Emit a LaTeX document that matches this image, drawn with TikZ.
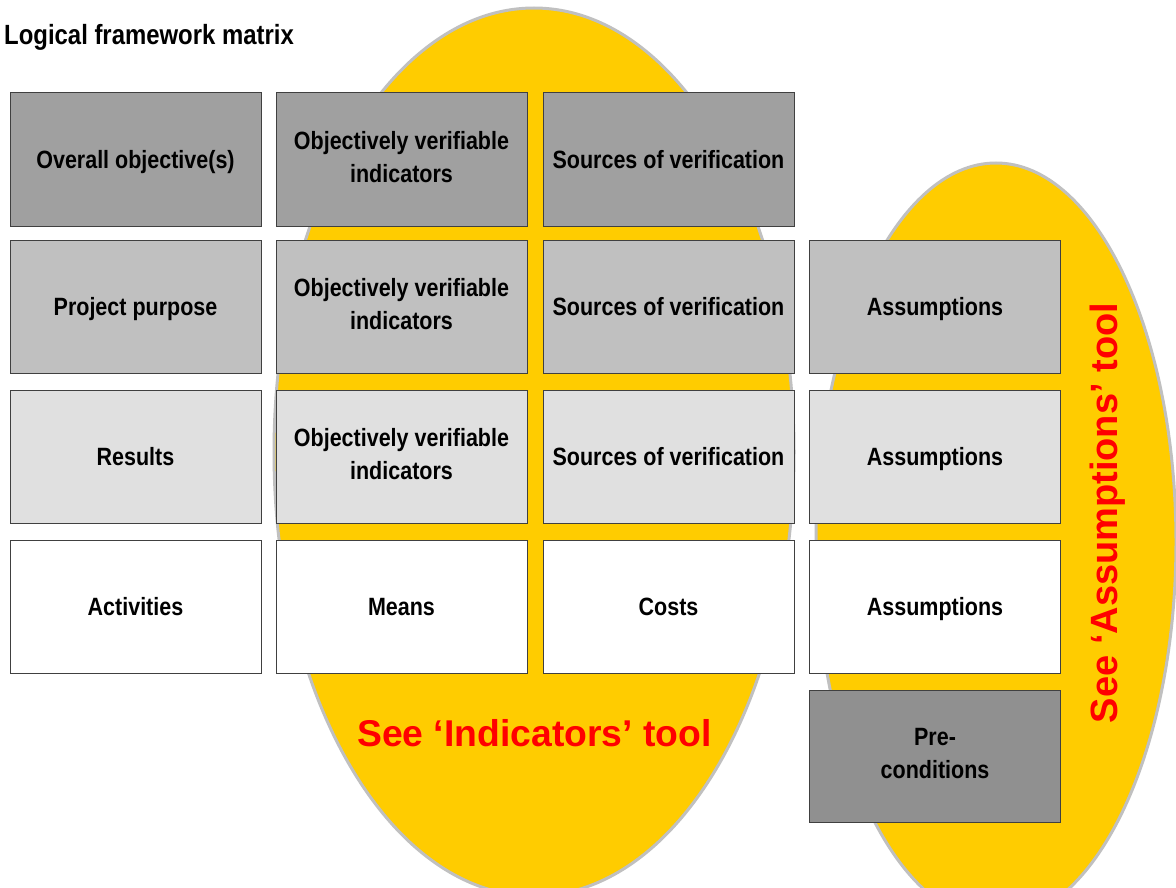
\documentclass[tikz,border=0pt]{standalone}
\usepackage{fontspec}
\setmainfont{Liberation Sans}
\newfontfamily\narrowfont[FakeStretch=0.86]{Liberation Sans}
\definecolor{ellfill}{HTML}{FFCC00}
\definecolor{ellline}{HTML}{C0C0C0}
\definecolor{rowA}{HTML}{A0A0A0}
\definecolor{rowB}{HTML}{C0C0C0}
\definecolor{rowC}{HTML}{E0E0E0}
\definecolor{rowP}{HTML}{909090}
\definecolor{redtxt}{HTML}{FF0000}
\begin{document}
\begin{tikzpicture}[x=1pt,y=-1pt,
  cell/.style={draw=black!75, line width=1pt, minimum width=251pt, minimum height=133pt,
    inner sep=0pt, align=center, font=\narrowfont\bfseries\fontsize{25}{33}\selectfont,
    execute at begin node={\rule{0pt}{23.2pt}}, execute at end node={\vphantom{(}}},
  ell/.style={fill=ellfill, draw=ellline, line width=3pt},
  redlabel/.style={text=redtxt, inner sep=0pt}]
\useasboundingbox (0,0) rectangle (1176,888);
\fill[white] (0,0) rectangle (1176,888);
\begin{scope}
  \clip (0,0) rectangle (1176,888);
  \coordinate (e1) at (534,452);
  \coordinate (e2) at (996,542);
  \draw[ell] (e1) ellipse [x radius=260pt, y radius=444pt];
  \draw[ell] (e2) ellipse [x radius=180pt, y radius=379pt];
\end{scope}
\node[anchor=base west, inner sep=0pt, font=\narrowfont\bfseries\fontsize{27.8}{32}\selectfont] (title) at (4,45) {Logical framework matrix};
% row 1
\node[cell, fill=rowA] (r1c1) at (135.5,159.5) {Overall objective(s)};
\node[cell, fill=rowA] (r1c2) at (401.5,159.5) {Objectively verifiable\\indicators};
\node[cell, fill=rowA] (r1c3) at (668.5,159.5) {Sources of verification};
% row 2
\node[cell, fill=rowB] (r2c1) at (135.5,306.5) {Project purpose};
\node[cell, fill=rowB] (r2c2) at (401.5,306.5) {Objectively verifiable\\indicators};
\node[cell, fill=rowB] (r2c3) at (668.5,306.5) {Sources of verification};
\node[cell, fill=rowB] (r2c4) at (935,306.5) {Assumptions};
% row 3
\node[cell, fill=rowC] (r3c1) at (135.5,456.5) {Results};
\node[cell, fill=rowC] (r3c2) at (401.5,456.5) {Objectively verifiable\\indicators};
\node[cell, fill=rowC] (r3c3) at (668.5,456.5) {Sources of verification};
\node[cell, fill=rowC] (r3c4) at (935,456.5) {Assumptions};
% row 4
\node[cell, fill=white] (r4c1) at (135.5,606.5) {Activities};
\node[cell, fill=white] (r4c2) at (401.5,606.5) {Means};
\node[cell, fill=white] (r4c3) at (668.5,606.5) {Costs};
\node[cell, fill=white] (r4c4) at (935,606.5) {Assumptions};
% pre-conditions
\node[cell, fill=rowP, minimum height=132pt] (pre) at (935,756) {Pre-\\conditions};
% red labels
\node[redlabel, anchor=base, font=\bfseries\fontsize{37.3}{42}\selectfont] (ind) at (534.5,746) {See ‘Indicators’ tool};
\node[redlabel, anchor=base, rotate=90, font=\bfseries\fontsize{38}{42}\selectfont] (ass) at (1117,513) {See ‘Assumptions’ tool};
\end{tikzpicture}
\end{document}
